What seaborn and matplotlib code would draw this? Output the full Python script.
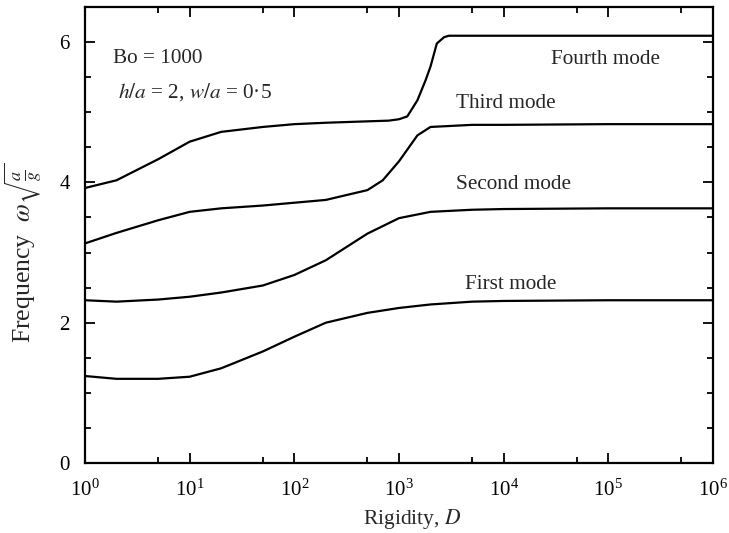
import numpy as np
import pandas as pd
import matplotlib
matplotlib.use("Agg")
import matplotlib.pyplot as plt
import seaborn as sns
from matplotlib.ticker import LogLocator, LogFormatterMathtext, MultipleLocator, NullFormatter

# Natural frequencies of the first four sloshing modes versus plate rigidity D
D_first = [1, 2, 5, 10, 20, 50, 100, 200, 500, 1000, 2000, 5000, 1e4, 1e5, 1e6]
first_mode = [1.24, 1.20, 1.20, 1.23, 1.35, 1.59, 1.80, 2.00, 2.14, 2.21, 2.26, 2.30, 2.31, 2.32, 2.32]

D_second = [1, 2, 5, 10, 20, 50, 100, 200, 500, 1000, 2000, 5000, 1e4, 1e5, 1e6]
second_mode = [2.32, 2.30, 2.33, 2.37, 2.43, 2.53, 2.68, 2.89, 3.27, 3.49, 3.58, 3.61, 3.62, 3.63, 3.63]

D_third = [1, 2, 5, 10, 20, 50, 100, 200, 500, 700, 1000, 1500, 2000, 5000, 1e4, 1e5, 1e6]
third_mode = [3.13, 3.28, 3.46, 3.58, 3.63, 3.67, 3.71, 3.75, 3.89, 4.03, 4.30, 4.67, 4.79, 4.82, 4.82, 4.83, 4.83]

D_fourth = [1, 2, 5, 10, 20, 50, 100, 200, 500, 800, 1000, 1200, 1500, 1800, 2000, 2300, 2700, 3000, 1e4, 1e5, 1e6]
fourth_mode = [3.92, 4.03, 4.33, 4.58, 4.72, 4.79, 4.83, 4.85, 4.87, 4.88, 4.90, 4.94, 5.17, 5.46, 5.65, 5.98, 6.07, 6.09, 6.09, 6.09, 6.09]

mode_names = ["First mode", "Second mode", "Third mode", "Fourth mode"]
label_D = [1.17e4, 1.23e4, 1.04e4, 9.5e4]
label_y = [2.54, 3.97, 5.12, 5.75]

frames = []
for name, d, w in zip(mode_names,
                      [D_first, D_second, D_third, D_fourth],
                      [first_mode, second_mode, third_mode, fourth_mode]):
    frames.append(pd.DataFrame({"D": d, "omega": w, "mode": name}))
data = pd.concat(frames, ignore_index=True)

sns.set_style("ticks")
plt.rcParams["font.family"] = ["Liberation Serif", "DejaVu Serif"]
plt.rcParams["mathtext.fontset"] = "stix"

fig = plt.figure(figsize=(7.29, 5.33), dpi=100)
ax = fig.add_axes([0.1166, 0.1313, 0.8614, 0.8556])

sns.lineplot(data=data, x="D", y="omega", hue="mode", units="mode", estimator=None,
             palette={n: "black" for n in mode_names}, linewidth=1.6,
             legend=False, ax=ax, sort=True)

ax.set_xscale("log")
ax.set_xlim(1, 1e6)
ax.set_ylim(0, 6.5)

ax.xaxis.set_major_locator(LogLocator(base=10, numticks=10))
ax.xaxis.set_major_formatter(LogFormatterMathtext())
ax.xaxis.set_minor_locator(LogLocator(base=10, subs=[5.0], numticks=10))
ax.xaxis.set_minor_formatter(NullFormatter())
ax.yaxis.set_major_locator(MultipleLocator(2))
ax.yaxis.set_minor_locator(MultipleLocator(0.5))

ax.tick_params(which="both", direction="in", top=True, right=True, width=1.3, colors="black")
ax.tick_params(which="major", length=7, labelsize=15)
ax.tick_params(axis="x", which="major", pad=12)
ax.tick_params(axis="y", which="major", pad=11)
ax.tick_params(which="minor", length=4)
for s in ax.spines.values():
    s.set_linewidth(1.6)
    s.set_color("black")

ax.set_xlabel(r"Rigidity, $D$", fontsize=15.5)
ax.xaxis.set_label_coords(0.521, -0.097)
ax.set_ylabel(r"Frequency  $\omega\sqrt{\frac{a}{g}}$", fontsize=18.5)
ax.yaxis.set_label_coords(-0.066, 0.46)

for name, xd, yd in zip(mode_names, label_D, label_y):
    ax.text(xd, yd, name, fontsize=15.3, ha="center", va="center")

ax.text(1.85, 5.76, "Bo = 1000", fontsize=15.3, ha="left", va="center")
ax.text(2.07, 5.29, "$h/a$ = 2, $w/a$ = 0\u00b75", fontsize=15.3, ha="left", va="center")

fig.savefig("out.png", dpi=100)
